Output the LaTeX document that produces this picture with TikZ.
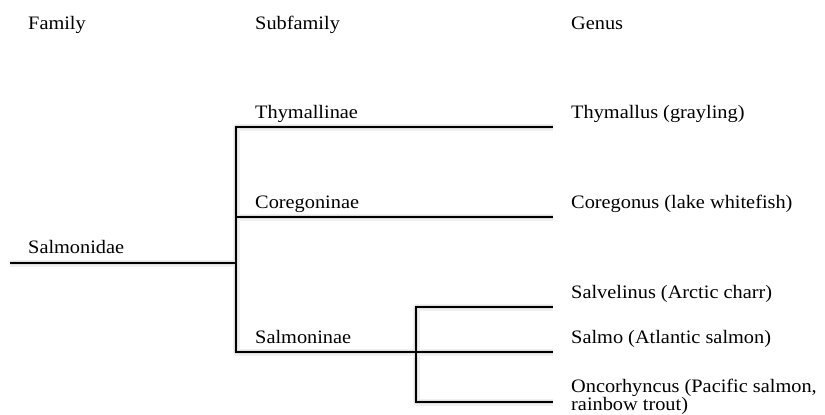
\documentclass[tikz,border=0pt]{standalone}
\usepackage{fontspec}
\setmainfont[FakeStretch=1.07]{Liberation Serif}
\begin{document}
\begin{tikzpicture}[x=1pt,y=-1pt,
  lbl/.style={anchor=base west,inner sep=0pt,font=\fontsize{19}{20}\selectfont},
  branch/.style={line width=2.2pt,black,line join=miter},
  shadeA/.style={line width=7pt,black!6,line join=round},
  shadeB/.style={line width=3.5pt,black!13,line join=round}]
\useasboundingbox (0,0) rectangle (825,415);
% headers
\node[lbl] (hfam) at (28,29) {Family};
\node[lbl] (hsub) at (255,29) {Subfamily};
\node[lbl] (hgen) at (571,29) {Genus};
% coordinates
\coordinate (root) at (10,263);
\coordinate (fam) at (236,263);
\coordinate (tvt) at (236,127);
\coordinate (cvt) at (236,217);
\coordinate (svt) at (236,352);
\coordinate (tend) at (553,127);
\coordinate (cend) at (553,217);
\coordinate (sj) at (416,352);
\coordinate (sjt) at (416,307);
\coordinate (sjb) at (416,402);
\coordinate (g1) at (553,307);
\coordinate (g2) at (553,352);
\coordinate (g3) at (553,402);
% shadows
\begin{scope}[shift={(2,5)}]
\foreach \s in {shadeA,shadeB}{
\draw[\s] (root) -- (fam);
\draw[\s] (tend) -- (tvt) -- (svt) -- (g2);
\draw[\s] (cvt) -- (cend);
\draw[\s] (g1) -- (sjt) -- (sjb) -- (g3);
}
\end{scope}
% branches
\draw[branch] (root) -- (fam);
\draw[branch] (tend) -- (tvt) -- (svt) -- (g2);
\draw[branch] (cvt) -- (cend);
\draw[branch] (g1) -- (sjt) -- (sjb) -- (g3);
% labels
\node[lbl] (salmonidae) at (28,253) {Salmonidae};
\node[lbl] (thymallinae) at (255,118) {Thymallinae};
\node[lbl] (coregoninae) at (255,208) {Coregoninae};
\node[lbl] (salmoninae) at (255,343) {Salmoninae};
\node[lbl] (thymallus) at (571,118) {Thymallus (grayling)};
\node[lbl] (coregonus) at (571,208) {Coregonus (lake whitefish)};
\node[lbl] (salvelinus) at (571,298) {Salvelinus (Arctic charr)};
\node[lbl] (salmo) at (571,343) {Salmo (Atlantic salmon)};
\node[lbl] (oncorhyncus) at (571,392) {Oncorhyncus (Pacific salmon,};
\node[lbl] (rainbow) at (571,410) {rainbow trout)};
\end{tikzpicture}
\end{document}
